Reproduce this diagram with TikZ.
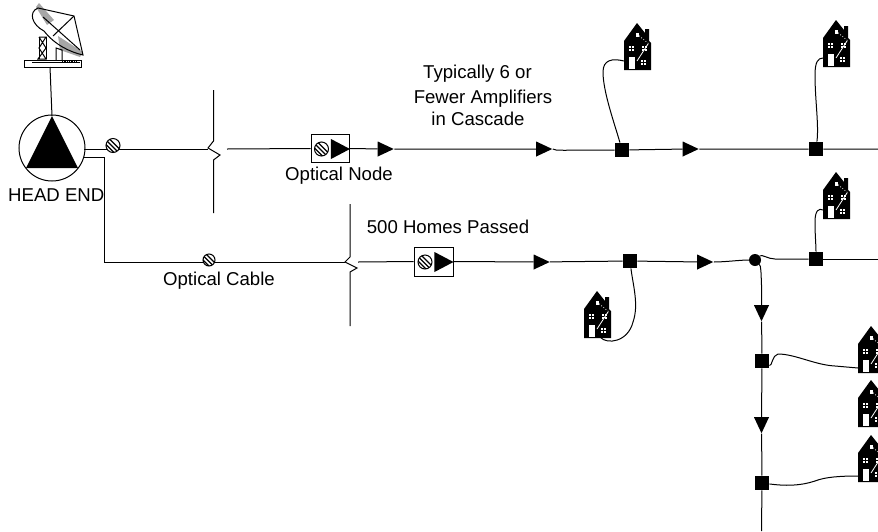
\documentclass[tikz,border=0pt]{standalone}
\usepackage{fontspec}
\setmainfont{Liberation Sans}
\usetikzlibrary{shapes.geometric}
\tikzset{
 x=1pt,y=-1pt,
 wire/.style={line width=1pt,black},
 tap/.style={line width=1pt,black},
 amp/.style={isosceles triangle,isosceles triangle stretches,fill=black,draw=none,inner sep=0pt,minimum width=15pt,minimum height=16pt,shape border rotate=#1},
 amp/.default=0,
 tapbox/.style={rectangle,fill=black,inner sep=0pt,minimum size=14.5pt},
 junction/.style={circle,fill=black,inner sep=0pt,minimum size=12pt},
 optic/.style={circle,draw=black,line width=1pt,fill=white,inner sep=0pt,minimum size=#1,path picture={
   \foreach \d in {-6,-1.5,3}{\draw[line width=1.4pt] ([shift={(-9pt,{9pt+\d*1pt})}]path picture bounding box.center) -- ([shift={(9pt,{-9pt+\d*1pt})}]path picture bounding box.center);}}},
 nodebox/.style={rectangle,draw=black,line width=1pt,inner sep=0pt,minimum width=38pt,minimum height=28pt},
 lbl/.style={inner sep=0pt,font=\fontsize{18.6}{18.6}\selectfont,text=black},
 house/.pic={
   \fill[black] (0,0) -- (0,-29) -- (13,-47) -- (21,-37) -- (21,-41) -- (25,-41) -- (25,-29) -- (27,-27) -- (27,0) -- cycle;
   \fill[white] (5,-1) rectangle (11,-13);
   \foreach \p in {(6,-23),(9,-23),(6,-20),(9,-20),(19,-23),(22,-23),(19,-20),(22,-20),(18,-9),(21,-9),(18,-6),(21,-6)}{\fill[white] \p ++(-0.8,-0.9) rectangle ++(1.6,1.8);}
   \draw[white,line width=.8pt] (13,-9) -- (24,-26);
   \draw[white,line width=.8pt,dotted] (13,-36) -- (25,-26);
   \fill[white] (12,-37) rectangle (14.5,-33);
   \coordinate (-port) at (0,-9);
 }
}
\begin{document}
\begin{tikzpicture}
\useasboundingbox (0,0) rectangle (878,531);
% satellite dish
\fill[gray!70] (39,3) -- (54,20) -- (47,25) -- (36,7) -- cycle;
\fill[gray!70] (58,36) -- (83,52) -- (80,57) -- (60,50) -- cycle;
\draw[line width=1pt] (38,8) .. controls (28,12) and (32,25) .. (44,31) .. controls (55,45) and (70,52) .. (83,55) -- (74,16) -- cycle;
\draw[line width=1pt] (74,16) -- (53,36) (43,17) -- (80,50);
\draw[line width=1pt] (39,37) -- (46,37) -- (39,48) -- (46,59) -- (38,59) -- (46,48) -- (39,37);
\draw[line width=1pt] (39,37) -- (39,59) (46,37) -- (46,59);
\draw[line width=1pt] (56,60) -- (56,48) -- (62,50) -- (62,60);
\draw[line width=1pt,fill=white] (24,60) rectangle (81,67);
\draw[line width=1pt] (32,62) -- (80,62);
\draw[line width=.7pt,densely dotted] (62,61) -- (76,61);
\coordinate (dish) at (50,67);
% head end
\node[circle,draw=black,line width=1pt,minimum size=66pt,inner sep=0pt] (he) at (52,148) {};
\fill[black] (52,116) -- (78,168) -- (26,168) -- cycle;
\coordinate (heTop) at (52,116);
\draw[wire] (dish) -- (heTop);
\node[lbl,anchor=west] (helbl) at (8,195) {HEAD END};
% top line
\coordinate (he1) at (84,149);
\coordinate (b1w) at (208,149);
\draw[wire] (he1) -- (b1w);
\node[optic=14pt] (o1) at (113,145.5) {};
\coordinate (b1e) at (227,149);
\draw[wire] (213.5,90) -- (213.5,141) -- (208,148) -- (220,155) -- (213.5,160) -- (213.5,213);
\node[nodebox] (n1) at (330,148.5) {};
\node[optic=14pt] (n1o) at (321.5,149) {};
\node[amp=0,minimum width=20pt,minimum height=19pt] (n1a) at (337,149) {};
\node[amp=0] (a1) at (382.5,149) {};
\node[amp=0] (a2) at (541,149) {};
\node[tapbox] (s1) at (622,150) {};
\node[amp=0] (a3) at (687.5,149) {};
\node[tapbox] (s2) at (816,149) {};
\coordinate (e1) at (878,149);
\draw[wire] (b1e) -- (n1.west);
\draw[wire] (n1.east) -- (a1) -- (a2);
\draw[wire] (a2.east) .. controls (556,151) and (560,150) .. (s1);
\draw[wire] (s1) -- (a3) -- (s2) -- (e1);
\node[lbl] (t1) at (477.5,73.5) {Typically 6 or};
\node[lbl] (t2) at (483,98.5) {Fewer Amplifiers};
\node[lbl] (t3) at (478,119) {in Cascade};
\node[lbl] (t4) at (339,176) {Optical Node};
% lower line
\coordinate (c1) at (104,157);
\coordinate (c2) at (104,262);
\coordinate (he2) at (83,157);
\coordinate (b2w) at (345,262);
\draw[wire] (he2) -- (c1) -- (c2) -- (b2w);
\node[optic=12pt] (o2) at (209,260) {};
\draw[wire] (350,204) -- (350,257) -- (345,262) -- (357,268) -- (350,272) -- (350,326);
\coordinate (b2e) at (358,262);
\node[nodebox,minimum width=39pt,minimum height=29pt] (n2) at (433.5,261.5) {};
\node[optic=14pt] (n2o) at (425,262) {};
\node[amp=0,minimum width=20pt,minimum height=19pt] (n2a) at (440.5,262) {};
\node[amp=0] (a4) at (538.5,262) {};
\node[tapbox] (s3) at (630,261) {};
\node[amp=0] (a5) at (702,262) {};
\node[junction] (j) at (755,260) {};
\node[tapbox] (s4) at (816,259) {};
\coordinate (e2) at (878,259);
\draw[wire] (b2e) -- (n2.west);
\draw[wire] (n2.east) -- (a4) -- (s3) -- (a5);
\draw[wire] (a5.east) .. controls (725,262) and (740,260) .. (j);
\draw[wire] (j) .. controls (762,254) and (768,259) .. (775,259) -- (s4);
\draw[wire] (s4) -- (e2);
\node[lbl] (t5) at (219,281) {Optical Cable};
\node[lbl] (t6) at (448,227) {500 Homes Passed};
% drop
\node[amp=-90] (a6) at (761.5,310) {};
\node[tapbox] (s5) at (762,361) {};
\node[amp=-90] (a7) at (761.5,422) {};
\node[tapbox] (s6) at (762,483) {};
\coordinate (e3) at (761.5,531);
\draw[wire] (j) .. controls (761,266) and (761,272) .. (761.5,285) -- (a6);
\draw[wire] (a6) -- (s5) -- (a7) -- (s6) -- (e3);
% houses
\pic (h1) at (624,70) {house};
\pic (h2) at (823,67) {house};
\pic (h3) at (823,219) {house};
\pic (h4) at (584,338) {house};
\pic (h5) at (858,373) {house};
\pic (h6) at (858,427) {house};
\pic (h7) at (858,482) {house};
% drops to houses
\draw[tap] (h1-port) .. controls (612,58) and (603,60) .. (603,72) .. controls (603,92) and (615,125) .. (s1);
\draw[tap] (h2-port) .. controls (818,58) and (815,62) .. (815,75) .. controls (815,100) and (819,125) .. (s2);
\draw[tap] (h3-port) .. controls (819,208) and (815,210) .. (815,222) .. controls (815,235) and (816,245) .. (s4);
\draw[tap] (s3) .. controls (633,285) and (639,305) .. (633,322) .. controls (628,342) and (607,345) .. (600,337);
\draw[tap] (s5) .. controls (772,367) and (772,355) .. (778,354) .. controls (795,354) and (815,365) .. (835,366) -- (h5-port |- 0,368);
\draw[tap] (s6) .. controls (785,486) and (800,486) .. (815,481) .. controls (825,477) and (840,476) .. (h7-port |- 0,476);
\end{tikzpicture}
\end{document}
